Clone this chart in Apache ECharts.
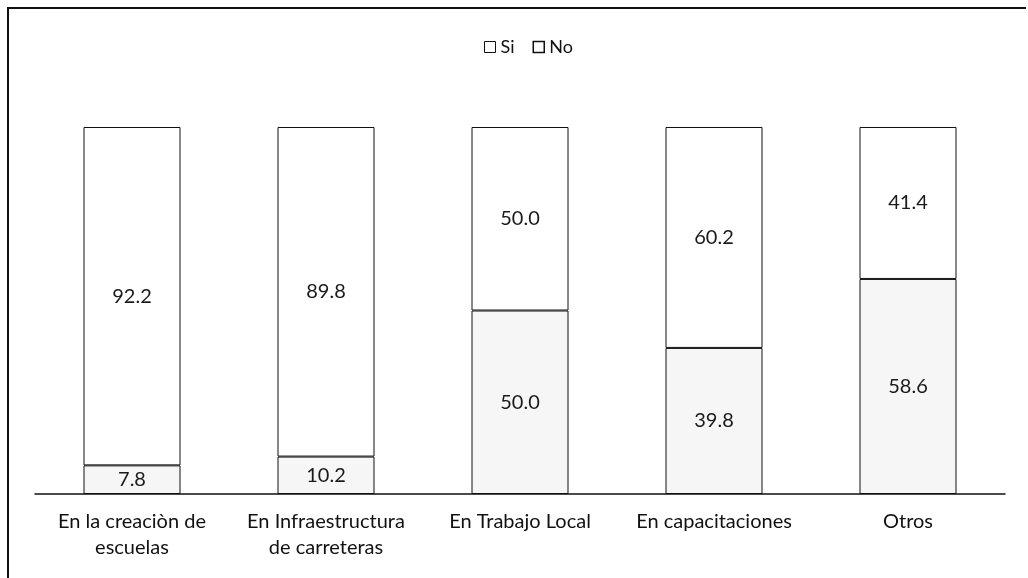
<!DOCTYPE html>
<html><head><meta charset="utf-8">
<script src="https://cdn.jsdelivr.net/npm/echarts@6/dist/echarts.min.js"></script>
<style>html,body{margin:0;padding:0;background:#fff}#c{width:1028px;height:578px}</style>
</head><body><div id="c"></div>
<script>
const categories = ["En la creaciòn de\nescuelas", "En Infraestructura\nde carreteras", "En Trabajo Local", "En capacitaciones", "Otros"];
const siValues = [7.8, 10.2, 50.0, 39.8, 58.6];
const noValues = [92.2, 89.8, 50.0, 60.2, 41.4];
const seriesNames = ["Si", "No"];

const font = "Lato, 'Open Sans', sans-serif";
const chart = echarts.init(document.getElementById('c'), null, {renderer: 'canvas'});
const lbl = {show: true, position: 'inside', fontFamily: font, fontSize: 20, color: '#1a1a1a', formatter: p => p.value.toFixed(1)};
chart.setOption({
  animation: false,
  backgroundColor: '#fff',
  graphic: [
    {type: 'polyline', shape: {points: [[8, 578], [8, 8], [1026, 8]]}, style: {stroke: '#111', lineWidth: 2, fill: null}, silent: true}
  ],
  legend: {
    top: 33, left: 479, itemWidth: 11, itemHeight: 11, itemGap: 18,
    icon: 'rect', orient: 'horizontal',
    textStyle: {fontFamily: font, fontSize: 18, color: '#111'},
    data: [
      {name: 'Si', itemStyle: {color: '#fff', borderColor: '#111', borderWidth: 1}},
      {name: 'No', itemStyle: {color: '#fff', borderColor: '#111', borderWidth: 1.5}}
    ]
  },
  grid: {left: 35, right: 23, top: 127, bottom: 84},
  xAxis: {
    type: 'category', data: categories,
    axisLine: {lineStyle: {color: '#111', width: 1.5}},
    axisTick: {show: false},
    axisLabel: {interval: 0, hideOverlap: false, fontFamily: font, fontSize: 20, color: '#111', margin: 15, lineHeight: 26}
  },
  yAxis: {type: 'value', min: 0, max: 100, show: false},
  series: [
    {name: seriesNames[0], type: 'bar', stack: 't', barWidth: '50%', data: siValues,
     itemStyle: {color: '#f6f6f6', borderColor: '#111', borderWidth: 1}, label: lbl},
    {name: seriesNames[1], type: 'bar', stack: 't', barWidth: '50%', data: noValues,
     itemStyle: {color: '#ffffff', borderColor: '#111', borderWidth: 1}, label: lbl}
  ]
});
</script></body></html>
